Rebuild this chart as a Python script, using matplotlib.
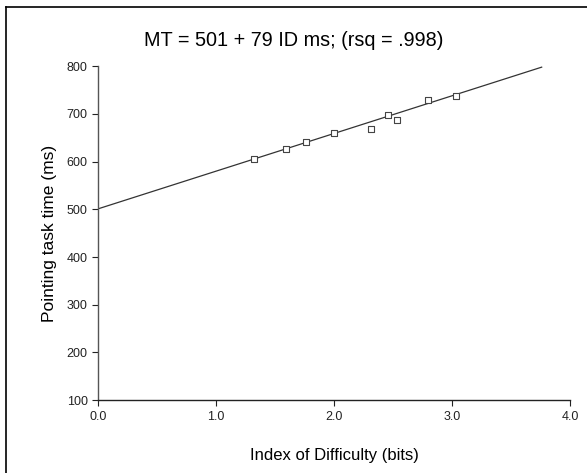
import matplotlib
matplotlib.use("Agg")
import matplotlib.pyplot as plt
from matplotlib.lines import Line2D
import numpy as np

plt.rcParams['font.family'] = ['Liberation Sans', 'DejaVu Sans']

# measured points (index of difficulty, movement time)
id_bits = [1.32, 1.59, 1.76, 2.00, 2.31, 2.46, 2.53, 2.80, 3.03]
mt_ms = [605, 626, 641, 661, 668, 697, 688, 730, 738]

# regression fit
intercept = 501
slope = 79
fit_x = [0.0, 3.76]

x_ticks = [0.0, 1.0, 2.0, 3.0, 4.0]
y_ticks = [100, 200, 300, 400, 500, 600, 700, 800]

fig = plt.figure(figsize=(5.87, 4.73), dpi=100)
ax = fig.add_axes([0.167, 0.154, 0.804, 0.706])

fx = np.array(fit_x)
ax.plot(fx, intercept + slope * fx, color="#333333", lw=0.9)
ax.scatter(id_bits, mt_ms, marker="s", s=18, facecolors="white",
           edgecolors="#444444", linewidths=0.8, zorder=3)

ax.set_xlim(0, 4)
ax.set_ylim(100, 800)
ax.set_xticks(x_ticks)
ax.set_xticklabels(["%.1f" % t for t in x_ticks])
ax.set_yticks(y_ticks)

for s in ["top", "right"]:
    ax.spines[s].set_visible(False)
ax.spines["left"].set_color("#555555")
ax.spines["bottom"].set_color("#222222")
ax.spines["left"].set_linewidth(1.0)
ax.spines["bottom"].set_linewidth(1.0)
ax.tick_params(direction="out", length=4, width=0.8, labelsize=9, colors="#222222")

ax.set_xlabel("Index of Difficulty (bits)", fontsize=12, labelpad=18)
ax.set_ylabel("Pointing task time (ms)", fontsize=12.5, labelpad=7)

fig.text(0.5, 0.915, "MT = 501 + 79 ID ms; (rsq = .998)", ha="center",
         va="center", fontsize=14.3)

# frame around the figure (top and left edge)
fig.add_artist(Line2D([6 / 587, 1], [1 - 7 / 473, 1 - 7 / 473], color="black", lw=1.2))
fig.add_artist(Line2D([6 / 587, 6 / 587], [0, 1 - 7 / 473], color="black", lw=1.2))

fig.savefig("out.png", dpi=100)
